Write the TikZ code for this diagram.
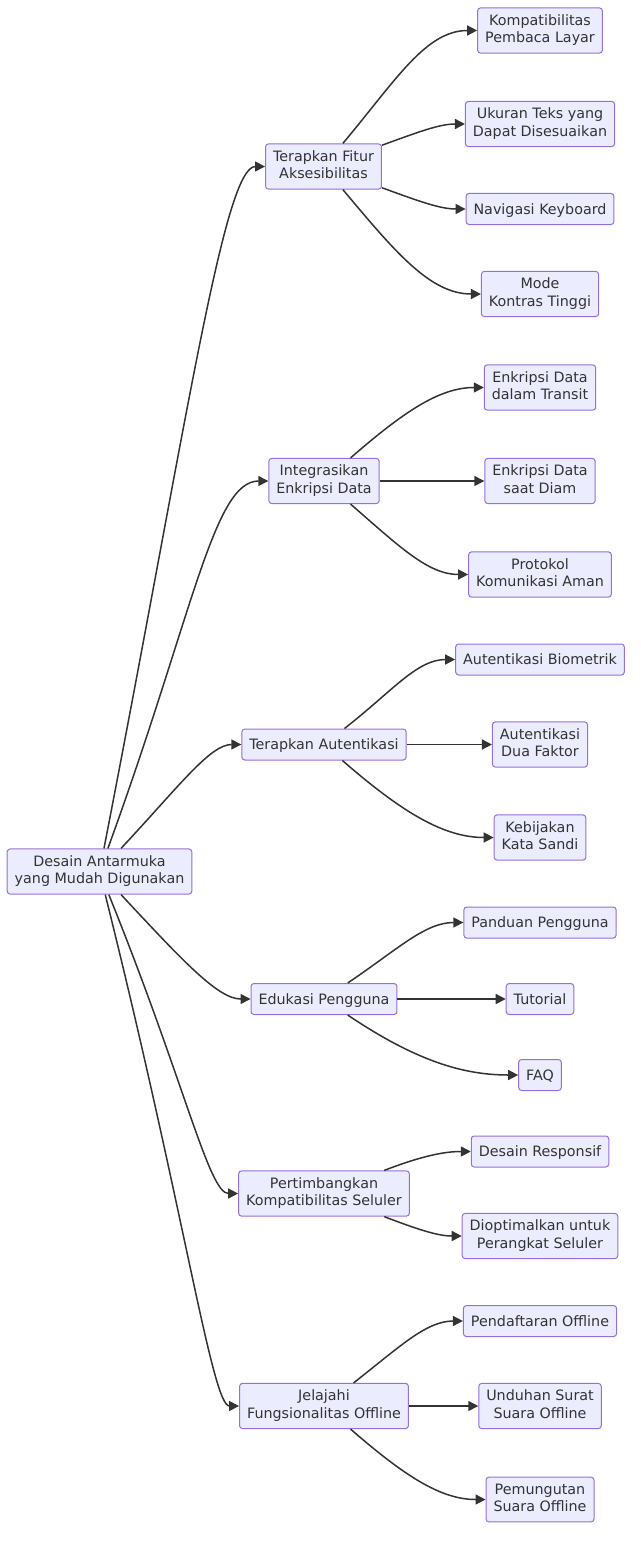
\documentclass[tikz,border=0pt]{standalone}
\usepackage{fontspec}
\setmainfont{DejaVu Sans}
\usetikzlibrary{arrows.meta}
\definecolor{boxfill}{HTML}{ECECFF}
\definecolor{boxline}{HTML}{9370DB}
\definecolor{ink}{HTML}{333333}
\newcommand{\linestrut}{\rule[-3.7pt]{0pt}{17.7pt}}
\begin{document}
\begin{tikzpicture}[x=1pt, y=1pt,
  box/.style={draw=boxline, fill=boxfill, line width=1pt, rounded corners=3pt, text=ink,
    align=center, inner xsep=7.5pt, inner ysep=6.5pt, minimum height=31pt,
    font=\fontsize{14.3}{17.7}\selectfont, execute at begin node=\linestrut, execute at end node=\linestrut},
  arr/.style={draw=ink, line width=1.5pt, -{Triangle[length=10pt,width=10pt]}, out looseness=1.2, in looseness=0.75},
  far/.style={out looseness=1.6, in looseness=0.15}]
  \useasboundingbox (0,0) rectangle (640,-1549);
  \node[box] (root) at (99.5,-871.5) {Desain Antarmuka\\yang Mudah Digunakan};
  \node[box] (akses) at (323.5,-166.5) {Terapkan Fitur\\Aksesibilitas};
  \node[box] (enkrip) at (324,-481) {Integrasikan\\Enkripsi Data};
  \node[box] (auten) at (324,-744.5) {Terapkan Autentikasi};
  \node[box] (edukasi) at (324,-999) {Edukasi Pengguna};
  \node[box] (seluler) at (324,-1193.5) {Pertimbangkan\\Kompatibilitas Seluler};
  \node[box] (offline) at (324,-1406) {Jelajahi\\Fungsionalitas Offline};
  \node[box] (layar) at (540,-30.5) {Kompatibilitas\\Pembaca Layar};
  \node[box] (ukuran) at (540,-124) {Ukuran Teks yang\\Dapat Disesuaikan};
  \node[box] (keyboard) at (540,-209) {Navigasi Keyboard};
  \node[box] (kontras) at (540,-294) {Mode\\Kontras Tinggi};
  \node[box] (transit) at (540,-387.5) {Enkripsi Data\\dalam Transit};
  \node[box] (diam) at (540,-481) {Enkripsi Data\\saat Diam};
  \node[box] (protokol) at (540,-574.5) {Protokol\\Komunikasi Aman};
  \node[box] (biometrik) at (540,-659.5) {Autentikasi Biometrik};
  \node[box] (duafaktor) at (540,-744.5) {Autentikasi\\Dua Faktor};
  \node[box] (sandi) at (540,-837.5) {Kebijakan\\Kata Sandi};
  \node[box] (panduan) at (540,-922.5) {Panduan Pengguna};
  \node[box] (tutorial) at (540,-999) {Tutorial};
  \node[box] (faq) at (540,-1075) {FAQ};
  \node[box] (responsif) at (540,-1151.5) {Desain Responsif};
  \node[box] (perangkat) at (540,-1236) {Dioptimalkan untuk\\Perangkat Seluler};
  \node[box] (daftar) at (540,-1321) {Pendaftaran Offline};
  \node[box] (unduhan) at (540,-1406) {Unduhan Surat\\Suara Offline};
  \node[box] (pungut) at (540,-1499.5) {Pemungutan\\Suara Offline};
  \draw[arr, far] (root) to[out=79, in=180] (akses);
  \draw[arr, far, in looseness=0.35] (root) to[out=70, in=180] (enkrip);
  \draw[arr, out looseness=1.4, in looseness=0.5] (root) to[out=47, in=180] (auten);
  \draw[arr, out looseness=1.4, in looseness=0.5] (root) to[out=-47, in=180] (edukasi);
  \draw[arr, far, in looseness=0.23] (root) to[out=-68, in=180] (seluler);
  \draw[arr, far, in looseness=0.13] (root) to[out=-76, in=180] (offline);
  \draw[arr] (akses) to[out=50, in=180] (layar);
  \draw[arr] (akses) to[out=20, in=180] (ukuran);
  \draw[arr] (akses) to[out=-20, in=180] (keyboard);
  \draw[arr] (akses) to[out=-50, in=180] (kontras);
  \draw[arr] (enkrip) to[out=41, in=180] (transit);
  \draw[arr] (enkrip) -- (diam);
  \draw[arr] (enkrip) to[out=-41, in=180] (protokol);
  \draw[arr] (auten) to[out=38, in=180] (biometrik);
  \draw[arr] (auten) -- (duafaktor);
  \draw[arr] (auten) to[out=-41, in=180] (sandi);
  \draw[arr] (edukasi) to[out=34, in=180] (panduan);
  \draw[arr] (edukasi) -- (tutorial);
  \draw[arr] (edukasi) to[out=-34, in=180] (faq);
  \draw[arr] (seluler) to[out=21, in=180] (responsif);
  \draw[arr] (seluler) to[out=-21, in=180] (perangkat);
  \draw[arr] (offline) to[out=38, in=180] (daftar);
  \draw[arr] (offline) -- (unduhan);
  \draw[arr] (offline) to[out=-41, in=180] (pungut);
\end{tikzpicture}
\end{document}
